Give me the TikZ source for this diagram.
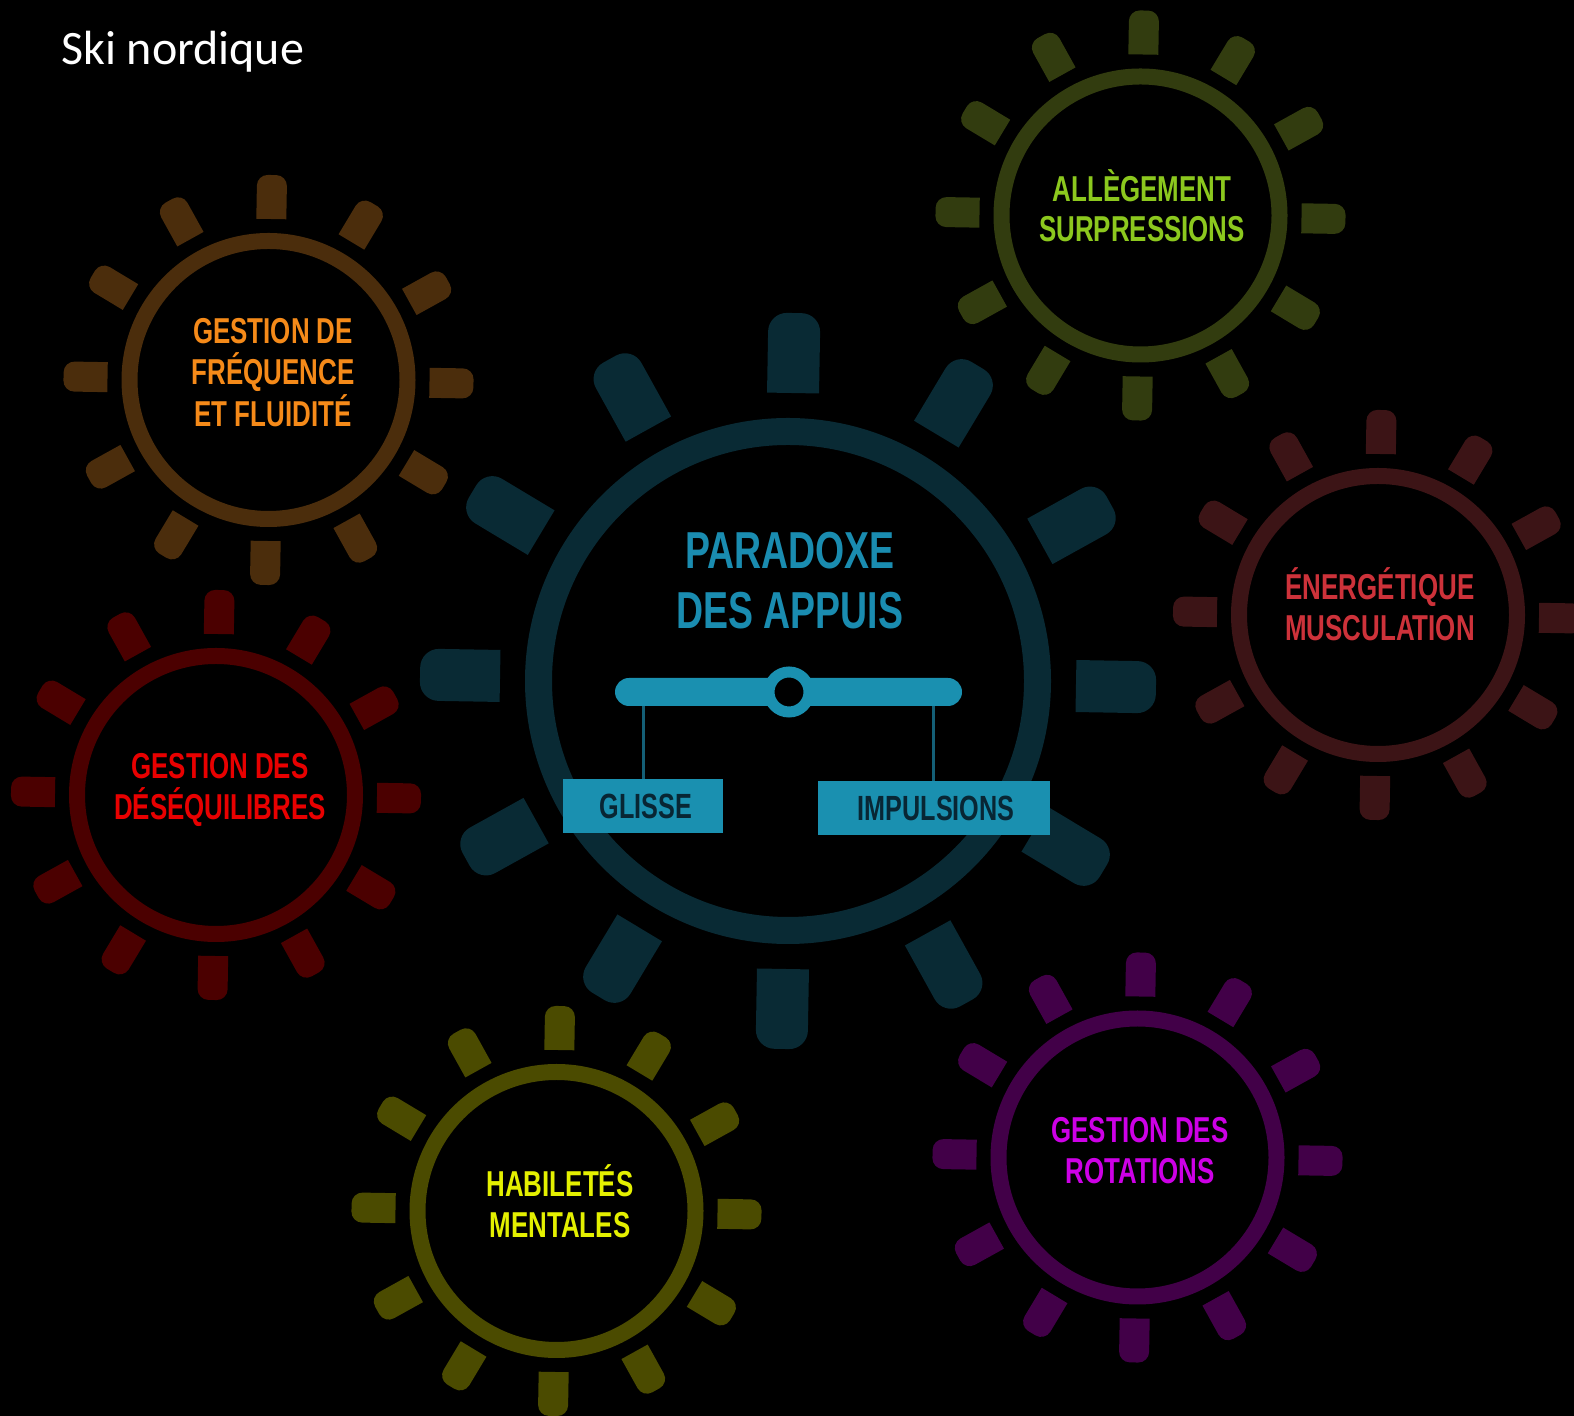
\documentclass[tikz,border=0pt]{standalone}
\usepackage{fontspec}
\usetikzlibrary{shapes.misc}
\newfontfamily\condfont[FakeStretch=0.72]{Liberation Sans}
\newfontfamily\titlefont{Carlito}

% gear colours
\definecolor{gteal}{RGB}{9,42,52}
\definecolor{gorange}{RGB}{75,45,12}
\definecolor{ggreen}{RGB}{50,60,15}
\definecolor{gwine}{RGB}{60,20,22}
\definecolor{gred}{RGB}{75,0,0}
\definecolor{gyellow}{RGB}{75,75,0}
\definecolor{gpurple}{RGB}{66,0,72}
% label colours
\definecolor{tteal}{RGB}{26,140,176}
\definecolor{torange}{RGB}{245,138,25}
\definecolor{tgreen}{RGB}{140,200,30}
\definecolor{twine}{RGB}{205,50,58}
\definecolor{tred}{RGB}{232,0,0}
\definecolor{tyellow}{RGB}{228,240,0}
\definecolor{tpurple}{RGB}{205,0,230}
\definecolor{boxfill}{RGB}{26,144,176}
\definecolor{boxtext}{RGB}{8,38,52}
\definecolor{hanger}{RGB}{20,95,118}

% #1 name, #2 x, #3 y, #4 colour, #5 ring radius, #6 ring width,
% #7 tooth inner radius, #8 tooth outer radius, #9 tooth half width
\newcommand{\cogwheel}[9]{%
  \node[circle, draw=#4, line width=#6pt, minimum size={2*#5}, inner sep=0pt] (#1) at (#2,#3) {};
  \pgfmathsetmacro{\toothrc}{0.72*#9}
  \foreach \a in {0,30,...,330}{
    \begin{scope}[shift={(#1.center)}, rotate=\a-1]
      \fill[#4] (#7,-#9) -- ({#8-\toothrc},-#9)
        arc[start angle=-90, end angle=0, radius=\toothrc pt]
        -- (#8,{#9-\toothrc})
        arc[start angle=0, end angle=90, radius=\toothrc pt]
        -- (#7,#9) -- cycle;
    \end{scope}
  }
}

\tikzset{
  smalllabel/.style={anchor=base, inner sep=0pt, font=\condfont\bfseries\fontsize{36}{41}\selectfont},
  biglabel/.style={anchor=base, inner sep=0pt, text=tteal, font=\condfont\bfseries\fontsize{52}{60}\selectfont},
  tagbox/.style={rectangle, fill=boxfill, text=boxtext, inner sep=0pt, minimum height=54,
    font=\condfont\bfseries\fontsize{35}{40}\selectfont},
}

\begin{document}
\begin{tikzpicture}[x=1pt, y=1pt]
  \fill[black] (0,0) rectangle (1574,1416);
  \useasboundingbox (0,0) rectangle (1574,1416);

  \node[anchor=base west, inner sep=0pt, text=white, font=\titlefont\fontsize{48}{58}\selectfont]
    (title) at (61,1351) {Ski nordique};

  % central gear
  \cogwheel{gcentre}{788}{735}{gteal}{249.5}{27}{288}{368}{26}
  % surrounding gears
  \cogwheel{gfreq}{268.5}{1036}{gorange}{139}{16}{161}{205}{15}
  \cogwheel{gallege}{1140.5}{1200.5}{ggreen}{139}{16}{161}{205}{15}
  \cogwheel{generg}{1378}{801}{gwine}{139}{16}{161}{205}{15}
  \cogwheel{gdeseq}{216}{621}{gred}{139}{16}{161}{205}{15}
  \cogwheel{ghabil}{556.5}{205}{gyellow}{139}{16}{161}{205}{15}
  \cogwheel{grot}{1137.5}{258.5}{gpurple}{139}{16}{161}{205}{15}

  % central title
  \node[biglabel] (par1) at (790,847.5) {PARADOXE};
  \node[biglabel] (par2) at (790,787.5) {DES APPUIS};

  % balance
  \node[tagbox, minimum width=160] (glisse) at (643,610) {\hspace*{6pt}GLISSE};
  \node[tagbox, minimum width=232] (impuls) at (934,608) {\hspace*{4pt}IMPULSIONS};
  \coordinate (hookl) at (643,724);
  \coordinate (hookr) at (933,724);
  \draw[hanger, line width=3pt] (hookl) -- (hookl |- glisse.north);
  \draw[hanger, line width=3pt] (hookr) -- (hookr |- impuls.north);
  \node[rounded rectangle, fill=boxfill, minimum width=347, minimum height=28, inner sep=0pt]
    (beam) at (788.5,724) {};
  \node[circle, draw=boxfill, fill=black, line width=11pt, minimum size=40, inner sep=0pt]
    (pivot) at (789,724) {};

  % gear labels
  \node[smalllabel, text=torange] (f1) at (273,1072) {GESTION DE};
  \node[smalllabel, text=torange] (f2) at (273,1031) {FRÉQUENCE};
  \node[smalllabel, text=torange] (f3) at (273,989) {ET FLUIDITÉ};

  \node[smalllabel, text=tgreen] (a1) at (1142,1214) {ALLÈGEMENT};
  \node[smalllabel, text=tgreen] (a2) at (1142,1174) {SURPRESSIONS};

  \node[smalllabel, text=twine] (e1) at (1380,816) {ÉNERGÉTIQUE};
  \node[smalllabel, text=twine] (e2) at (1380,775) {MUSCULATION};

  \node[smalllabel, text=tred] (d1) at (220,637) {GESTION DES};
  \node[smalllabel, text=tred] (d2) at (220,596) {DÉSÉQUILIBRES};

  \node[smalllabel, text=tyellow] (h1) at (560,219) {HABILETÉS};
  \node[smalllabel, text=tyellow] (h2) at (560,178) {MENTALES};

  \node[smalllabel, text=tpurple] (r1) at (1140,273) {GESTION DES};
  \node[smalllabel, text=tpurple] (r2) at (1140,232) {ROTATIONS};
\end{tikzpicture}
\end{document}
